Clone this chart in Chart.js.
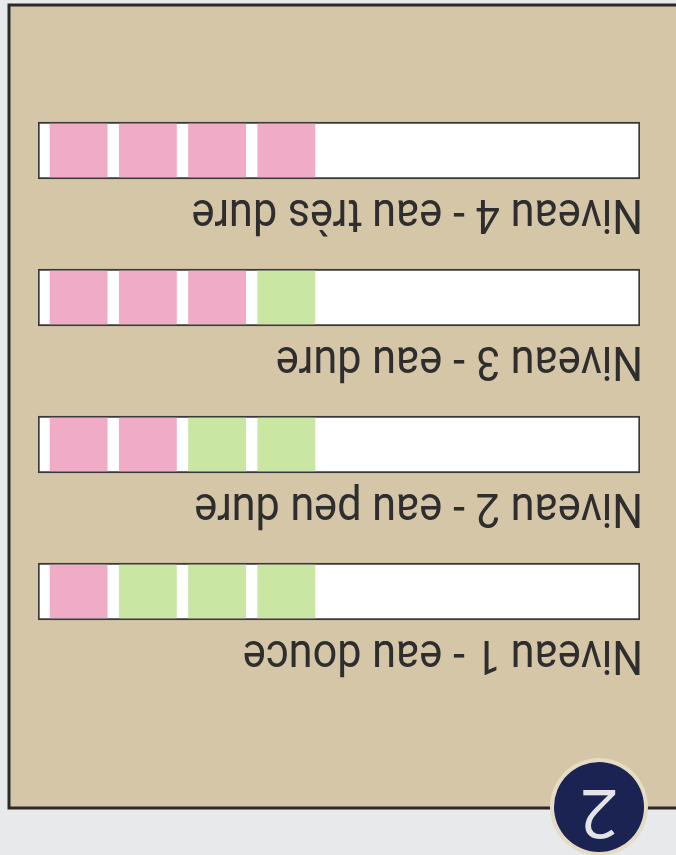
<!DOCTYPE html>
<html>
<head>
<meta charset="utf-8">
<script src="https://cdn.jsdelivr.net/npm/chart.js@4/dist/chart.umd.min.js"></script>
<style>
  html, body { margin: 0; padding: 0; background: #e8e9ea; overflow: hidden; }
  #wrap { width: 676px; height: 855px; transform: rotate(180deg); }
  canvas { display: block; }
</style>
</head>
<body>
<div id="wrap"><canvas id="c" width="676" height="855"></canvas></div>
<script>
// ---- data ----
const levels = ["Niveau 1 - eau douce", "Niveau 2 - eau peu dure", "Niveau 3 - eau dure", "Niveau 4 - eau très dure"];
const pinkPads = [1, 2, 3, 4];           // number of pads turned pink (from the handle end)
const padCount = 4;
const badgeText = "2";

// ---- strip geometry (strip units, 0..100) ----
const STRIP = [0, 100];
const PADS = [[88.5, 98], [77, 86.5], [65.5, 75], [54, 63.5]]; // pad 0 = nearest handle

const PINK = '#f0abc6';
const GREEN = '#c9e6a3';

const datasets = [];
for (let k = 0; k < padCount; k++) {
  datasets.push({
    label: 'pad ' + (k + 1),
    data: levels.map(() => PADS[k]),
    backgroundColor: pinkPads.map(n => (k < n ? PINK : GREEN)),
    borderWidth: 0,
    barThickness: 53,
    grouped: false,
    order: 1
  });
}
datasets.push({
  label: 'strip',
  data: levels.map(() => STRIP),
  backgroundColor: '#ffffff',
  borderColor: '#3a3a3a',
  borderWidth: 2,
  borderSkipped: false,
  barThickness: 57,
  grouped: false,
  order: 2
});

const bgPlugin = {
  id: 'bg',
  beforeDraw(chart) {
    const ctx = chart.ctx;
    ctx.save();
    ctx.fillStyle = '#e8e9ea';
    ctx.fillRect(0, 0, chart.width, chart.height);
    ctx.fillStyle = '#d5c6a8';
    ctx.fillRect(0, 47, 667, 803);
    ctx.strokeStyle = '#2a2a2a';
    ctx.lineWidth = 3;
    ctx.beginPath();
    ctx.moveTo(-5, 47); ctx.lineTo(667, 47); ctx.lineTo(667, 850); ctx.lineTo(-5, 850);
    ctx.stroke();
    ctx.restore();
  },
  afterDatasetsDraw(chart) {
    const ctx = chart.ctx;
    const ys = chart.scales.y, xs = chart.scales.x;
    ctx.fillStyle = '#2e2e2e';
    ctx.font = '48px "Roboto", sans-serif';
    ctx.textAlign = 'left';
    ctx.textBaseline = 'alphabetic';
    levels.forEach((lab, i) => {
      const y = ys.getPixelForValue(i) - 57 / 2 - 21;
      ctx.save();
      ctx.translate(xs.getPixelForValue(0) - 3, y);
      ctx.scale(0.9, 1);
      ctx.fillText(lab, 0, 0);
      ctx.restore();
    });
  },
  afterDraw(chart) {
    const ctx = chart.ctx;
    ctx.save();
    ctx.beginPath();
    ctx.arc(77, 48, 49, 0, Math.PI * 2);
    ctx.fillStyle = '#e6dcc4';
    ctx.fill();
    ctx.beginPath();
    ctx.arc(77, 48, 45, 0, Math.PI * 2);
    ctx.fillStyle = '#1b2352';
    ctx.fill();
    ctx.fillStyle = '#e4e4e8';
    ctx.font = '68px "Open Sans", sans-serif';
    ctx.textAlign = 'center';
    ctx.textBaseline = 'middle';
    ctx.fillText(badgeText, 77, 46);
    ctx.restore();
  }
};

new Chart(document.getElementById('c'), {
  type: 'bar',
  data: { labels: levels, datasets },
  options: {
    indexAxis: 'y',
    responsive: false,
    animation: false,
    devicePixelRatio: 1,
    layout: { padding: { left: 36, right: 38, top: 190, bottom: 77 } },
    scales: {
      x: { display: false, min: 0, max: 100 },
      y: { display: false }
    },
    plugins: { legend: { display: false }, tooltip: { enabled: false } }
  },
  plugins: [bgPlugin]
});
</script>
</body>
</html>
